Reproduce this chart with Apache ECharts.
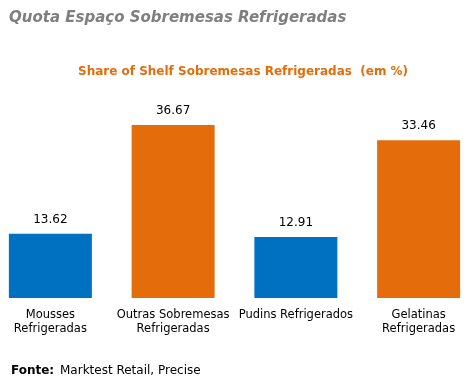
<!DOCTYPE html>
<html><head><meta charset="utf-8">
<script src="https://cdn.jsdelivr.net/npm/echarts@6/dist/echarts.min.js"></script>
<style>html,body{margin:0;padding:0;background:#fff}#c{width:468px;height:384px}</style>
</head><body><div id="c"></div>
<script>
var categories = ['Mousses\nRefrigeradas', 'Outras Sobremesas\nRefrigeradas', 'Pudins Refrigerados', 'Gelatinas\nRefrigeradas'];
var values = [13.62, 36.67, 12.91, 33.46];
var barColors = ['#0070C0', '#E46C0A', '#0070C0', '#E46C0A'];
var F = '"DejaVu Sans", Verdana, sans-serif';
var chart = echarts.init(document.getElementById('c'), null, {renderer: 'canvas'});
chart.setOption({
  animation: false,
  title: [
    {text: 'Quota Espaço Sobremesas Refrigeradas', left: 4, top: 6,
     textStyle: {fontFamily: F, fontSize: 15, fontWeight: 'bold', fontStyle: 'italic', color: '#7F7F7F'}},
    {text: 'Share of Shelf Sobremesas Refrigeradas  (em %)', left: 73, top: 61,
     textStyle: {fontFamily: F, fontSize: 12, fontWeight: 'bold', color: '#E46C0A'}},
    {text: '{b|Fonte:} Marktest Retail, Precise', left: 6, top: 360,
     textStyle: {fontFamily: F, fontSize: 12, color: '#000', fontWeight: 'normal',
       rich: {b: {fontFamily: F, fontSize: 12, fontWeight: 'bold', color: '#000', padding: [0, 2, 0, 0]}}}}
  ],
  grid: {left: -11, width: 491, top: 109.3, bottom: 86, containLabel: false, outerBoundsMode: 'none'},
  xAxis: {type: 'category', data: categories,
    axisLine: {show: false}, axisTick: {show: false},
    axisLabel: {interval: 0, fontFamily: F, fontSize: 11.5, color: '#000', lineHeight: 14, margin: 10}},
  yAxis: {type: 'value', min: 0, max: 40, show: false, splitLine: {show: false}},
  series: [{type: 'bar', barWidth: 83,
    data: values.map(function (v, i) { return {value: v, itemStyle: {color: barColors[i]}}; }),
    label: {show: true, position: 'top', distance: 8, fontFamily: F, fontSize: 12, color: '#000',
      formatter: function (p) { return p.value.toFixed(2); }}
  }]
});
</script></body></html>
